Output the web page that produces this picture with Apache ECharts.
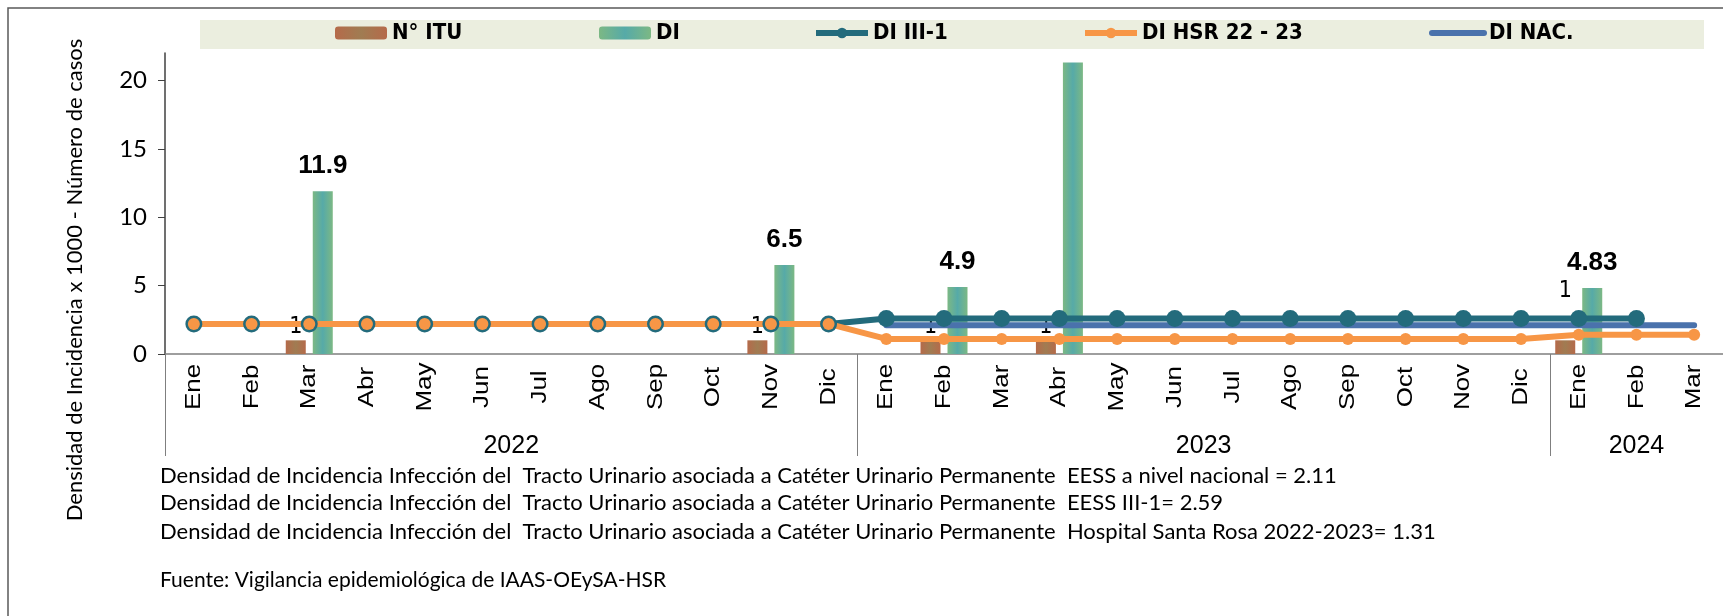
<!DOCTYPE html>
<html>
<head>
<meta charset="utf-8">
<title>ITU - Densidad de Incidencia</title>
<script src="https://cdn.jsdelivr.net/npm/echarts@6/dist/echarts.min.js"></script>
<style>
html,body{margin:0;padding:0;background:#fff;}
#main{width:1723px;height:616px;}
</style>
</head>
<body>
<div id="main"></div>
<script>
var months = ['Ene','Feb','Mar','Abr','May','Jun','Jul','Ago','Sep','Oct','Nov','Dic',
              'Ene','Feb','Mar','Abr','May','Jun','Jul','Ago','Sep','Oct','Nov','Dic',
              'Ene','Feb','Mar'];
var years = ['2022','2023','2024'];
var yearMid = [6, 18, 25.5];      // centro de cada grupo (en meses)
var yearEdge = [0, 12, 24, 27];   // separadores

var itu = [null,null,1,null,null,null,null,null,null,null,1,null,
           null,1,null,1,null,null,null,null,null,null,null,null,
           1,null,null];
var di = [null,null,11.9,null,null,null,null,null,null,null,6.5,null,
          null,4.9,null,21.3,null,null,null,null,null,null,null,null,
          4.83,null,null];
var diIII1 = [2.2,2.2,2.2,2.2,2.2,2.2,2.2,2.2,2.2,2.2,2.2,2.2,
              2.59,2.59,2.59,2.59,2.59,2.59,2.59,2.59,2.59,2.59,2.59,2.59,
              2.59,2.59,null];
var diHsr = [2.2,2.2,2.2,2.2,2.2,2.2,2.2,2.2,2.2,2.2,2.2,2.2,
             1.1,1.1,1.1,1.1,1.1,1.1,1.1,1.1,1.1,1.1,1.1,1.1,
             1.4,1.4,1.4];
var diNac = [null,null,null,null,null,null,null,null,null,null,null,null,
             2.11,2.11,2.11,2.11,2.11,2.11,2.11,2.11,2.11,2.11,2.11,2.11,
             2.11,2.11,2.11];
var yTicks = [0, 5, 10, 15, 20];

var notas = [
  'Densidad de Incidencia Infección del  Tracto Urinario asociada a Catéter Urinario Permanente  EESS a nivel nacional = 2.11',
  'Densidad de Incidencia Infección del  Tracto Urinario asociada a Catéter Urinario Permanente  EESS III-1= 2.59',
  'Densidad de Incidencia Infección del  Tracto Urinario asociada a Catéter Urinario Permanente  Hospital Santa Rosa 2022-2023= 1.31'
];
var fuente = 'Fuente: Vigilancia epidemiológica de IAAS-OEySA-HSR';
var yName = 'Densidad de Incidencia x 1000 - Número de casos';

var narrow = "'Liberation Sans Narrow','DejaVu Sans Condensed',sans-serif";
var arial = "'Liberation Sans',Arial,sans-serif";
var calibri = "Lato,'Open Sans',sans-serif";

// datos de barras con etiquetas
var ituData = itu.map(function(v, i){
  if (v === null) return null;
  var d = {value: v};
  if (i === 24) d.label = {offset: [0, -36]};
  return d;
});
var diData = di.map(function(v){
  if (v === null) return null;
  var d = {value: v};
  if (v > 20) d.label = {show: false};
  return d;
});

function legendAt(name, left, hideSymbol){
  var l = {
    data: [name], left: left, top: 22, padding: 0,
    itemWidth: 52, itemHeight: 13,
    lineStyle: {width: 6},
    textStyle: {fontFamily: narrow, fontWeight: 'bold', fontSize: 22, color: '#000'}
  };
  if (hideSymbol) l.itemStyle = {opacity: 0};
  return l;
}

// etiquetas de mes giradas (un poco estiradas a lo largo, como en el original)
function renderMes(params, api){
  var p = api.coord([api.value(0), 0]);
  return {
    type: 'text', x: p[0], y: p[1] + 33, rotation: Math.PI / 2, scaleX: 1.18, scaleY: 1,
    style: {text: months[params.dataIndex], font: '22px ' + arial, fill: '#000',
            textAlign: 'center', textVerticalAlign: 'middle'}
  };
}

var myChart = echarts.init(document.getElementById('main'));
var option = {
  animation: false,
  backgroundColor: '#fff',
  legend: [
    legendAt('N° ITU', 335),
    legendAt('DI', 599),
    legendAt('DI III-1', 813),
    legendAt('DI HSR 22 - 23', 1082),
    legendAt('DI NAC.', 1429, true)
  ],
  grid: {left: 165, top: 53, width: 1560, height: 301},
  xAxis: [
    {
      type: 'category', data: months, boundaryGap: true,
      axisLine: {lineStyle: {color: '#7f7f7f', width: 1.5}},
      axisTick: {show: false},
      axisLabel: {show: false}
    },
    {
      type: 'value', position: 'bottom', min: 0, max: 27,
      axisLine: {show: false},
      splitLine: {show: false},
      axisTick: {show: true, customValues: yearEdge, length: 102, lineStyle: {color: '#7f7f7f', width: 1}},
      axisLabel: {customValues: yearMid, margin: 80, fontFamily: arial, fontSize: 25, color: '#000',
                  formatter: function(v){ return years[yearMid.indexOf(v)]; }}
    }
  ],
  yAxis: {
    type: 'value', min: 0, max: 22, interval: 5,
    axisLine: {show: true, lineStyle: {color: '#404040', width: 1.5}},
    axisTick: {show: true, customValues: yTicks, length: 7, lineStyle: {color: '#404040'}},
    splitLine: {show: false},
    axisLabel: {showMaxLabel: false, margin: 18, fontFamily: calibri, fontSize: 24, color: '#000'}
  },
  series: [
    {
      name: 'N° ITU', type: 'bar', data: ituData, barWidth: 20, barGap: '35%',
      itemStyle: {color: new echarts.graphic.LinearGradient(0, 0, 1, 0, [
        {offset: 0, color: '#b56a4a'}, {offset: 0.5, color: '#a07c52'}, {offset: 1, color: '#b56a4a'}])},
      label: {show: true, position: 'top', distance: 2, fontFamily: narrow, fontSize: 23, color: '#000'}
    },
    {
      name: 'DI', type: 'bar', data: diData, barWidth: 20,
      itemStyle: {color: new echarts.graphic.LinearGradient(0, 0, 1, 0, [
        {offset: 0, color: '#7cb884'}, {offset: 0.5, color: '#56aaa8'}, {offset: 1, color: '#7cb884'}])},
      label: {show: true, position: 'top', distance: 12, fontFamily: arial, fontWeight: 'bold', fontSize: 26, color: '#000'}
    },
    {
      name: 'DI III-1', type: 'line', data: diIII1, symbol: 'circle', symbolSize: 17,
      itemStyle: {color: '#236b7c'}, lineStyle: {color: '#236b7c', width: 6}
    },
    {
      name: 'DI HSR 22 - 23', type: 'line', data: diHsr, symbol: 'circle', symbolSize: 12,
      itemStyle: {color: '#f79646'}, lineStyle: {color: '#f79646', width: 6}
    },
    {
      name: 'DI NAC.', type: 'line', data: diNac, symbol: 'none',
      itemStyle: {color: '#4a72ac'}, lineStyle: {color: '#4a72ac', width: 6, cap: 'round'}
    },
    {
      name: 'meses', type: 'custom', xAxisIndex: 0, yAxisIndex: 0, silent: true, clip: false,
      data: months.map(function(m, i){ return [i, 0]; }),
      renderItem: renderMes
    }
  ],
  graphic: [
    {type: 'rect', z: -1, shape: {x: 8, y: 8, width: 1800, height: 800},
     style: {fill: 'none', stroke: '#595959', lineWidth: 1.5}},
    {type: 'rect', z: -1, shape: {x: 200, y: 20, width: 1504, height: 29}, style: {fill: '#ebeedf'}},
    {type: 'text', x: 75, y: 280, rotation: Math.PI / 2,
     style: {text: yName, font: '22px ' + calibri, fill: '#000', textAlign: 'center', textVerticalAlign: 'middle'}},
    {type: 'text', x: 160, y: 476, style: {text: notas[0], font: '22px ' + calibri, fill: '#000', textVerticalAlign: 'middle'}},
    {type: 'text', x: 160, y: 503, style: {text: notas[1], font: '22px ' + calibri, fill: '#000', textVerticalAlign: 'middle'}},
    {type: 'text', x: 160, y: 532, style: {text: notas[2], font: '22px ' + calibri, fill: '#000', textVerticalAlign: 'middle'}},
    {type: 'text', x: 160, y: 580, style: {text: fuente, font: '21px ' + calibri, fill: '#000', textVerticalAlign: 'middle'}}
  ]
};
myChart.setOption(option);
</script>
</body>
</html>
